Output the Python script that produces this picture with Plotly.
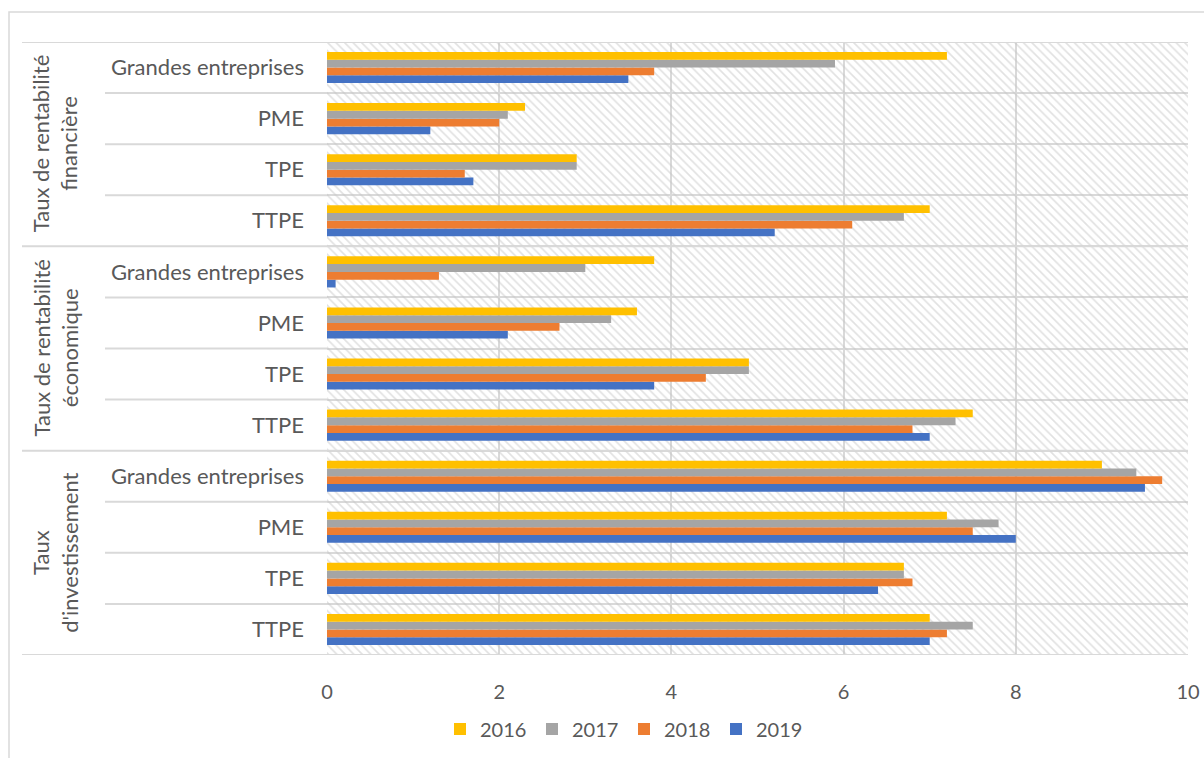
import plotly.graph_objects as go

# Indicator groups (outer level) and company sizes (inner level)
groups = ["Taux de rentabilité financière", "Taux de rentabilité économique", "Taux d'investissement"]
group_labels = ["Taux de rentabilité<br>financière", "Taux de rentabilité<br>économique", "Taux<br>d'investissement"]
sizes = ["Grandes entreprises", "PME", "TPE", "TTPE"]
years = ["2016", "2017", "2018", "2019"]

# Values listed top to bottom: each group in order Grandes entreprises, PME, TPE, TTPE
v2016 = [7.2, 2.3, 2.9, 7.0,   3.8, 3.6, 4.9, 7.5,   9.0, 7.2, 6.7, 7.0]
v2017 = [5.9, 2.1, 2.9, 6.7,   3.0, 3.3, 4.9, 7.3,   9.4, 7.8, 6.7, 7.5]
v2018 = [3.8, 2.0, 1.6, 6.1,   1.3, 2.7, 4.4, 6.8,   9.7, 7.5, 6.8, 7.2]
v2019 = [3.5, 1.2, 1.7, 5.2,   0.1, 2.1, 3.8, 7.0,   9.5, 8.0, 6.4, 7.0]
values = {"2016": v2016, "2017": v2017, "2018": v2018, "2019": v2019}
colors = {"2016": "#FFC000", "2017": "#A5A5A5", "2018": "#ED7D31", "2019": "#4472C4"}

x_max = 10
W, H = 1204, 758
ML, MR, MT, MB = 327, 16, 42, 103
PW = W - ML - MR
PH = H - MT - MB

keys = [f"{g}|{s}" for g in groups for s in sizes]          # top to bottom
inner = [s for g in groups for s in sizes]
order = keys[::-1]                                           # bottom to top on the axis
n = len(keys)

FONT = "Lato"
TXT = "#595959"
GRID = "#D9D9D9"

fig = go.Figure()

# Hatched plot background, one full-width band per category
fig.add_trace(go.Bar(
    y=keys, x=[x_max] * n, orientation="h", width=1.0,
    marker=dict(color="rgba(0,0,0,0)", line=dict(width=0),
                pattern=dict(shape="\\", fgcolor="#C4C4C4", bgcolor="rgba(0,0,0,0)",
                             size=6, solidity=0.28)),
    showlegend=False, hoverinfo="skip", xaxis="x", yaxis="y",
))

# Data bars (added bottom-up so 2016 sits on top of each group)
for rank, yr in enumerate(years[::-1]):
    fig.add_trace(go.Bar(
        name=yr, y=keys, x=values[yr], orientation="h",
        marker=dict(color=colors[yr], line=dict(width=0)),
        legendrank=len(years) - rank, xaxis="x", yaxis="y2",
    ))

def px_to_paper_x(px):
    return (px - ML) / PW

def px_to_paper_y(py):
    return (H - MB - py) / PH

shapes = []
# Row separators in the label area and group separators spanning the full width
for b in range(n + 1):
    yb = b - 0.5
    if b % 4 == 0:
        shapes.append(dict(type="line", xref="paper", yref="y", x0=px_to_paper_x(22), x1=1,
                           y0=yb, y1=yb, line=dict(color=GRID, width=2), layer="above"))
    else:
        shapes.append(dict(type="line", xref="paper", yref="y", x0=px_to_paper_x(105), x1=0,
                           y0=yb, y1=yb, line=dict(color=GRID, width=2), layer="above"))
# Chart frame
shapes.append(dict(type="rect", xref="paper", yref="paper",
                   x0=px_to_paper_x(9), x1=px_to_paper_x(1215),
                   y0=px_to_paper_y(770), y1=px_to_paper_y(12),
                   line=dict(color=GRID, width=1.5), fillcolor="rgba(0,0,0,0)", layer="below"))

# Rotated group labels
annotations = []
for gi, lab in enumerate(group_labels):
    center_idx = n - 1 - (gi * 4 + 1.5)
    annotations.append(dict(
        text=lab, xref="paper", yref="y", x=px_to_paper_x(55), y=center_idx,
        xanchor="center", yanchor="middle",
        textangle=-90, showarrow=False, align="center",
        font=dict(family=FONT, size=22, color=TXT),
    ))

yax = dict(type="category", categoryorder="array", categoryarray=order,
           range=[-0.5, n - 0.5])

fig.update_layout(
    width=W, height=H,
    margin=dict(l=ML, r=MR, t=MT, b=MB, autoexpand=False),
    paper_bgcolor="white", plot_bgcolor="white",
    barmode="group", bargap=0.39, bargroupgap=0,
    font=dict(family=FONT, size=20, color=TXT),
    xaxis=dict(range=[0, x_max], dtick=2, tick0=0, showgrid=True, gridcolor=GRID, gridwidth=2,
               zeroline=False, showline=False, ticks="", ticklabelstandoff=23,
               tickfont=dict(family=FONT, size=20, color=TXT)),
    yaxis=dict(**yax, tickmode="array", tickvals=keys, ticktext=inner, tickson="boundaries",
               showgrid=True, gridcolor=GRID, gridwidth=2, showline=False, ticks="",
               ticklabelstandoff=22, tickfont=dict(family=FONT, size=22, color=TXT)),
    yaxis2=dict(**yax, overlaying="y", visible=False, showgrid=False),
    legend=dict(orientation="h", xref="container", yref="container",
                x=624 / W, xanchor="center", y=1 - 729 / H, yanchor="middle",
                entrywidth=47, traceorder="normal",
                font=dict(family=FONT, size=20, color=TXT)),
    shapes=shapes, annotations=annotations,
)

fig.write_html("out.html")
